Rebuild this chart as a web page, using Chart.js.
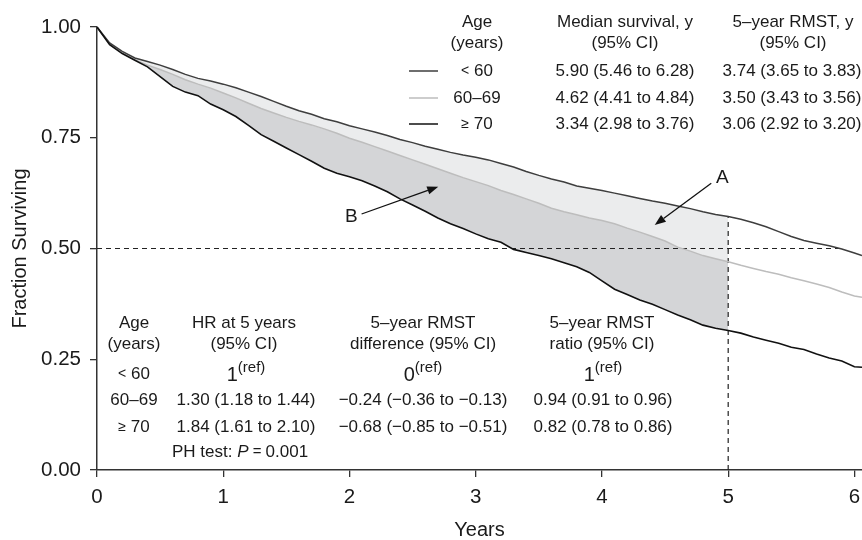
<!DOCTYPE html>
<html><head><meta charset="utf-8">
<script src="https://cdn.jsdelivr.net/npm/chart.js@4/dist/chart.umd.min.js"></script>
<style>html,body{margin:0;padding:0;background:#fff}#wrap{width:862px;height:540px;position:relative}</style>
</head><body><div id="wrap"><canvas id="c" width="862" height="540"></canvas></div>
<script>
// ---- data ----
const years = [0,0.1,0.2,0.3,0.4,0.5,0.6,0.7,0.8,0.9,1.0,1.1,1.2,1.3,1.4,1.5,1.6,1.7,1.8,1.9,2.0,2.1,2.2,2.3,2.4,2.5,2.6,2.7,2.8,2.9,3.0,3.1,3.2,3.3,3.4,3.5,3.6,3.7,3.8,3.9,4.0,4.1,4.2,4.3,4.4,4.5,4.6,4.7,4.8,4.9,5.0,5.1,5.2,5.3,5.4,5.5,5.6,5.7,5.8,5.9,6.0,6.06];
const survUnder60 = [1.000,0.964,0.945,0.930,0.922,0.914,0.904,0.893,0.884,0.878,0.871,0.863,0.853,0.843,0.832,0.821,0.811,0.803,0.793,0.786,0.777,0.770,0.763,0.755,0.746,0.739,0.731,0.724,0.717,0.711,0.706,0.700,0.692,0.684,0.674,0.665,0.657,0.650,0.641,0.636,0.631,0.625,0.619,0.613,0.607,0.602,0.596,0.590,0.583,0.577,0.572,0.566,0.558,0.549,0.538,0.527,0.518,0.512,0.506,0.499,0.490,0.484];
const surv60to69 = [1.000,0.962,0.941,0.926,0.914,0.904,0.893,0.881,0.871,0.862,0.851,0.840,0.828,0.816,0.806,0.796,0.787,0.779,0.770,0.760,0.749,0.740,0.730,0.720,0.710,0.700,0.690,0.680,0.670,0.660,0.651,0.642,0.631,0.622,0.612,0.602,0.591,0.583,0.576,0.569,0.563,0.556,0.546,0.537,0.527,0.517,0.503,0.494,0.484,0.477,0.470,0.462,0.455,0.448,0.442,0.434,0.427,0.420,0.412,0.402,0.393,0.390];
const surv70plus = [1.000,0.960,0.940,0.925,0.910,0.888,0.866,0.853,0.845,0.826,0.813,0.798,0.778,0.757,0.742,0.727,0.712,0.697,0.681,0.670,0.662,0.653,0.641,0.628,0.612,0.598,0.584,0.569,0.556,0.545,0.533,0.522,0.514,0.498,0.491,0.484,0.477,0.468,0.459,0.446,0.427,0.408,0.396,0.384,0.374,0.362,0.350,0.339,0.327,0.320,0.315,0.309,0.300,0.293,0.286,0.277,0.272,0.262,0.253,0.246,0.233,0.232];
const xTicks = [0,1,2,3,4,5,6];
const yTicks = [0,0.25,0.50,0.75,1.00];
const ageGroups = ['60', '60–69', '70'];
const medianSurvival = ['5.90 (5.46 to 6.28)','4.62 (4.41 to 4.84)','3.34 (2.98 to 3.76)'];
const rmst5 = ['3.74 (3.65 to 3.83)','3.50 (3.43 to 3.56)','3.06 (2.92 to 3.20)'];
const hr5 = ['1','1.30 (1.18 to 1.44)','1.84 (1.61 to 2.10)'];
const rmstDiff = ['0','−0.24 (−0.36 to −0.13)','−0.68 (−0.85 to −0.51)'];
const rmstRatio = ['1','0.94 (0.91 to 0.96)','0.82 (0.78 to 0.86)'];
const phP = '0.001';
const medianUnder60 = 5.90;
const tau = 5;

// ---- build datasets ----
const toPts = (arr, maxT) => years.map((t,i)=>({x:t,y:arr[i]})).filter(p => maxT===undefined || p.x <= maxT + 1e-9);
const valueAt = (arr, t) => arr[years.findIndex(v => Math.abs(v - t) < 1e-9)];
const colTop = '#3e3e3e', colMid = '#bdbdbd', colBot = '#111111';
const FONT = '"Liberation Sans", Arial, Helvetica, sans-serif';
const TS = 17;

const datasets = [
  {data: toPts(surv70plus), borderColor: colBot, borderWidth: 1.6, fill: false},
  {data: toPts(survUnder60), borderColor: colTop, borderWidth: 1.5, fill: false},
  {data: toPts(surv60to69), borderColor: colMid, borderWidth: 1.5, fill: false},
  {data: [{x:0,y:0.5},{x:medianUnder60,y:0.5}], borderColor: '#222', borderWidth: 1.2, borderDash: [5,4], fill: false},
  {data: [{x:tau,y:0},{x:tau,y:valueAt(survUnder60,tau)}], borderColor: '#222', borderWidth: 1.2, borderDash: [5,4], fill: false},
  {data: toPts(survUnder60, tau), borderColor: 'transparent', borderWidth: 0, fill: false},
  {data: toPts(surv60to69, tau), borderColor: 'transparent', borderWidth: 0, fill: 5, backgroundColor: '#ebeced'},
  {data: toPts(surv70plus, tau), borderColor: 'transparent', borderWidth: 0, fill: 6, backgroundColor: '#d4d5d7'}
];

function drawRuns(ctx, parts, x, y, align) {
  let w = 0;
  parts.forEach(p => { ctx.font = (p.italic ? 'italic ' : '') + (p.size||TS) + 'px ' + FONT; p.w = ctx.measureText(p.t).width; w += p.w; });
  let cx = align === 'left' ? x : x - w/2;
  parts.forEach(p => { ctx.font = (p.italic ? 'italic ' : '') + (p.size||TS) + 'px ' + FONT; ctx.fillText(p.t, cx, y + (p.dy||0)); cx += p.w; });
}
const txt = (t) => [{t}];
const ageRun = (i) => i===0 ? [{t:'<', size:14},{t:' 60'}] : i===2 ? [{t:'≥', size:14},{t:' 70'}] : [{t:ageGroups[1]}];
const refRun = (v) => [{t:v, size:20, dy:1},{t:'(ref)', size:15, dy:-6}];

const annotPlugin = {
  id: 'kmAnnot',
  afterDraw(chart, args, opts) {
    const ctx = chart.ctx, xs = chart.scales.x, ys = chart.scales.y;
    ctx.save();
    ctx.fillStyle = '#1a1a1a'; ctx.textBaseline = 'middle'; ctx.textAlign = 'left';
    // arrows
    opts.arrows.forEach(a => {
      const x1 = xs.getPixelForValue(a.from[0]), y1 = ys.getPixelForValue(a.from[1]);
      const x2 = xs.getPixelForValue(a.to[0]), y2 = ys.getPixelForValue(a.to[1]);
      const ang = Math.atan2(y2-y1, x2-x1), hl = 11, hw = 4.2;
      const bx = x2 - hl*Math.cos(ang), by = y2 - hl*Math.sin(ang);
      ctx.strokeStyle = '#111'; ctx.lineWidth = 1.3;
      ctx.beginPath(); ctx.moveTo(x1,y1); ctx.lineTo(bx,by); ctx.stroke();
      ctx.fillStyle = '#111'; ctx.beginPath(); ctx.moveTo(x2,y2);
      ctx.lineTo(bx + hw*Math.sin(ang), by - hw*Math.cos(ang));
      ctx.lineTo(bx - hw*Math.sin(ang), by + hw*Math.cos(ang)); ctx.closePath(); ctx.fill();
      ctx.fillStyle = '#1a1a1a';
      drawRuns(ctx, [{t:a.label, size:19}], xs.getPixelForValue(a.labelAt[0]), ys.getPixelForValue(a.labelAt[1]), 'center');
    });
    // top table
    const rowsTop = [71, 98, 124];
    [colTop, colMid, colBot].forEach((c,i) => {
      ctx.strokeStyle = c; ctx.lineWidth = 1.5; ctx.beginPath(); ctx.moveTo(409, rowsTop[i]); ctx.lineTo(438, rowsTop[i]); ctx.stroke();
    });
    ctx.fillStyle = '#1a1a1a';
    drawRuns(ctx, txt('Age'), 477, 22, 'center');
    drawRuns(ctx, txt('(years)'), 477, 43, 'center');
    drawRuns(ctx, txt('Median survival, y'), 625, 22, 'center');
    drawRuns(ctx, txt('(95% CI)'), 625, 43, 'center');
    drawRuns(ctx, txt('5–year RMST, y'), 793, 22, 'center');
    drawRuns(ctx, txt('(95% CI)'), 793, 43, 'center');
    rowsTop.forEach((y,i) => {
      drawRuns(ctx, ageRun(i), 477, y, 'center');
      drawRuns(ctx, txt(medianSurvival[i]), 625, y, 'center');
      drawRuns(ctx, txt(rmst5[i]), 792, y, 'center');
    });
    // bottom table
    const rowsBot = [374, 400, 427];
    drawRuns(ctx, txt('Age'), 134, 323, 'center');
    drawRuns(ctx, txt('(years)'), 134, 344, 'center');
    drawRuns(ctx, txt('HR at 5 years'), 244, 323, 'center');
    drawRuns(ctx, txt('(95% CI)'), 244, 344, 'center');
    drawRuns(ctx, txt('5–year RMST'), 423, 323, 'center');
    drawRuns(ctx, txt('difference (95% CI)'), 423, 344, 'center');
    drawRuns(ctx, txt('5–year RMST'), 602, 323, 'center');
    drawRuns(ctx, txt('ratio (95% CI)'), 602, 344, 'center');
    rowsBot.forEach((y,i) => {
      drawRuns(ctx, ageRun(i), 134, y, 'center');
      drawRuns(ctx, i===0 ? refRun(hr5[0]) : txt(hr5[i]), 246, y, 'center');
      drawRuns(ctx, i===0 ? refRun(rmstDiff[0]) : txt(rmstDiff[i]), 423, y, 'center');
      drawRuns(ctx, i===0 ? refRun(rmstRatio[0]) : txt(rmstRatio[i]), 603, y, 'center');
    });
    drawRuns(ctx, [{t:'PH test: '},{t:'P', italic:true},{t:' = ', size:15},{t:phP}], 172, 452, 'left');
    ctx.restore();
  }
};

new Chart(document.getElementById('c'), {
  type: 'line',
  data: { datasets },
  plugins: [annotPlugin],
  options: {
    responsive: false, animation: false, devicePixelRatio: 1,
    layout: { padding: { top: 27, left: 0, right: 0, bottom: 0 } },
    elements: { point: { radius: 0, hoverRadius: 0 }, line: { tension: 0 } },
    plugins: {
      legend: { display: false }, tooltip: { enabled: false },
      filler: { propagate: false },
      kmAnnot: {
        arrows: [
          { from: [4.866, 0.6475], to: [4.418, 0.553], label: 'A', labelAt: [4.953, 0.6603] },
          { from: [2.096, 0.5779], to: [2.703, 0.6395], label: 'B', labelAt: [2.015, 0.572] }
        ]
      }
    },
    scales: {
      x: {
        type: 'linear', min: 0, max: 6.06,
        afterFit: s => { s.height = 70; s.paddingLeft = 0; s.paddingRight = 0; },
        afterBuildTicks: s => { s.ticks = xTicks.map(v => ({ value: v })); },
        ticks: { includeBounds: false, autoSkip: false, maxRotation: 0, padding: 10, color: '#1a1a1a',
                 font: { family: FONT, size: 20.5, lineHeight: 1 }, callback: v => String(v) },
        grid: { drawOnChartArea: false, drawTicks: true, tickLength: 7, color: '#333', lineWidth: 1.3 },
        border: { display: true, color: '#333', width: 1.5 },
        title: { display: true, text: 'Years', color: '#1a1a1a', padding: { top: 0, bottom: 0 },
                 font: { family: FONT, size: 20, lineHeight: 1 } }
      },
      y: {
        type: 'linear', min: 0, max: 1,
        afterFit: s => { s.width = 97; s.paddingTop = 0; s.paddingBottom = 0; },
        afterBuildTicks: s => { s.ticks = yTicks.map(v => ({ value: v })); },
        ticks: { includeBounds: false, autoSkip: false, padding: 9, color: '#1a1a1a',
                 font: { family: FONT, size: 20.5, lineHeight: 1 }, callback: v => Number(v).toFixed(2) },
        grid: { drawOnChartArea: false, drawTicks: true, tickLength: 7, color: '#333', lineWidth: 1.3 },
        border: { display: true, color: '#333', width: 1.5 },
        title: { display: true, text: 'Fraction Surviving', color: '#1a1a1a', padding: { top: 10, bottom: 0 },
                 font: { family: FONT, size: 20, lineHeight: 1 } }
      }
    }
  }
});
</script></body></html>
